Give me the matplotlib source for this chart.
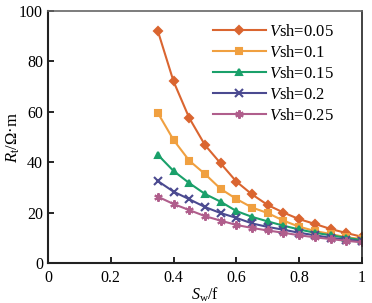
import numpy as np
import matplotlib
matplotlib.use("Agg")
import matplotlib.pyplot as plt

plt.rcParams['font.family'] = ['Liberation Serif', 'DejaVu Serif']
plt.rcParams['mathtext.fontset'] = 'custom'
plt.rcParams['mathtext.rm'] = 'Liberation Serif'
plt.rcParams['mathtext.it'] = 'Liberation Serif:italic'

# water saturation
sw = [0.35, 0.40, 0.45, 0.50, 0.55, 0.60, 0.65, 0.70, 0.75, 0.80, 0.85, 0.90, 0.95, 1.00]

# resistivity for each shale volume
rt_005 = [92.0, 72.0, 57.5, 46.8, 39.5, 32.3, 27.2, 23.0, 20.0, 17.4, 15.5, 13.5, 11.9, 10.4]
rt_010 = [59.5, 48.8, 40.6, 35.3, 29.4, 25.4, 22.0, 19.8, 16.8, 14.4, 12.7, 11.5, 10.2, 9.5]
rt_015 = [42.9, 36.5, 31.7, 27.4, 24.3, 20.6, 18.3, 16.5, 14.8, 13.3, 12.0, 11.0, 10.0, 9.1]
rt_020 = [32.5, 28.3, 25.3, 22.2, 19.8, 17.9, 15.7, 14.3, 13.2, 12.0, 11.0, 10.0, 9.3, 8.6]
rt_025 = [26.3, 23.4, 21.0, 18.6, 16.8, 15.1, 13.9, 12.9, 12.0, 11.0, 10.2, 9.5, 8.8, 8.2]

labels = ['0.05', '0.1', '0.15', '0.2', '0.25']
series = [rt_005, rt_010, rt_015, rt_020, rt_025]
colors = ['#DA6530', '#F0A040', '#1AA06A', '#4B4A90', '#B05E8C']
markers = ['D', 's', '^', 'x', (6, 2, 0)]
msizes = [3.8, 4.3, 5, 5.5, 6]

fig = plt.figure(figsize=(3.72, 3.03), dpi=100)
ax = fig.add_axes([0.129, 0.132, 0.844, 0.832])

for y, lab, c, m, ms in zip(series, labels, colors, markers, msizes):
    ax.plot(sw, y, color=c, marker=m, markersize=ms, lw=1.5, mew=1.5,
            label=r'$\it{V}$sh=' + lab)

ax.set_xlim(0, 1)
ax.set_ylim(0, 100)
ax.set_xticks([0, 0.2, 0.4, 0.6, 0.8, 1.0])
ax.set_xticklabels(['0', '0.2', '0.4', '0.6', '0.8', '1'])
ax.set_yticks([0, 20, 40, 60, 80, 100])
ax.tick_params(direction='in', labelsize=11.5, length=4, width=1.2)
ax.tick_params(axis='x', pad=5)

for s in ['left', 'bottom']:
    ax.spines[s].set_linewidth(1.5)
    ax.spines[s].set_color('#222222')
ax.spines['top'].set_color('#666666')
ax.spines['right'].set_color('#222222')
ax.spines['top'].set_linewidth(1.2)
ax.spines['right'].set_linewidth(1.2)

ax.set_xlabel(r'$\it{S}_{\rm w}$/f', fontsize=11.5, labelpad=0)
ax.set_ylabel(r'$\it{R}_{\rm t}$/$\Omega$·m', fontsize=12, labelpad=-2)

ax.legend(loc='upper left', frameon=False, fontsize=12, handlelength=3.2,
          handletextpad=0.2, labelspacing=0.3, borderaxespad=0, borderpad=0,
          bbox_to_anchor=(0.525, 0.95))

fig.savefig('out.png', dpi=100)
